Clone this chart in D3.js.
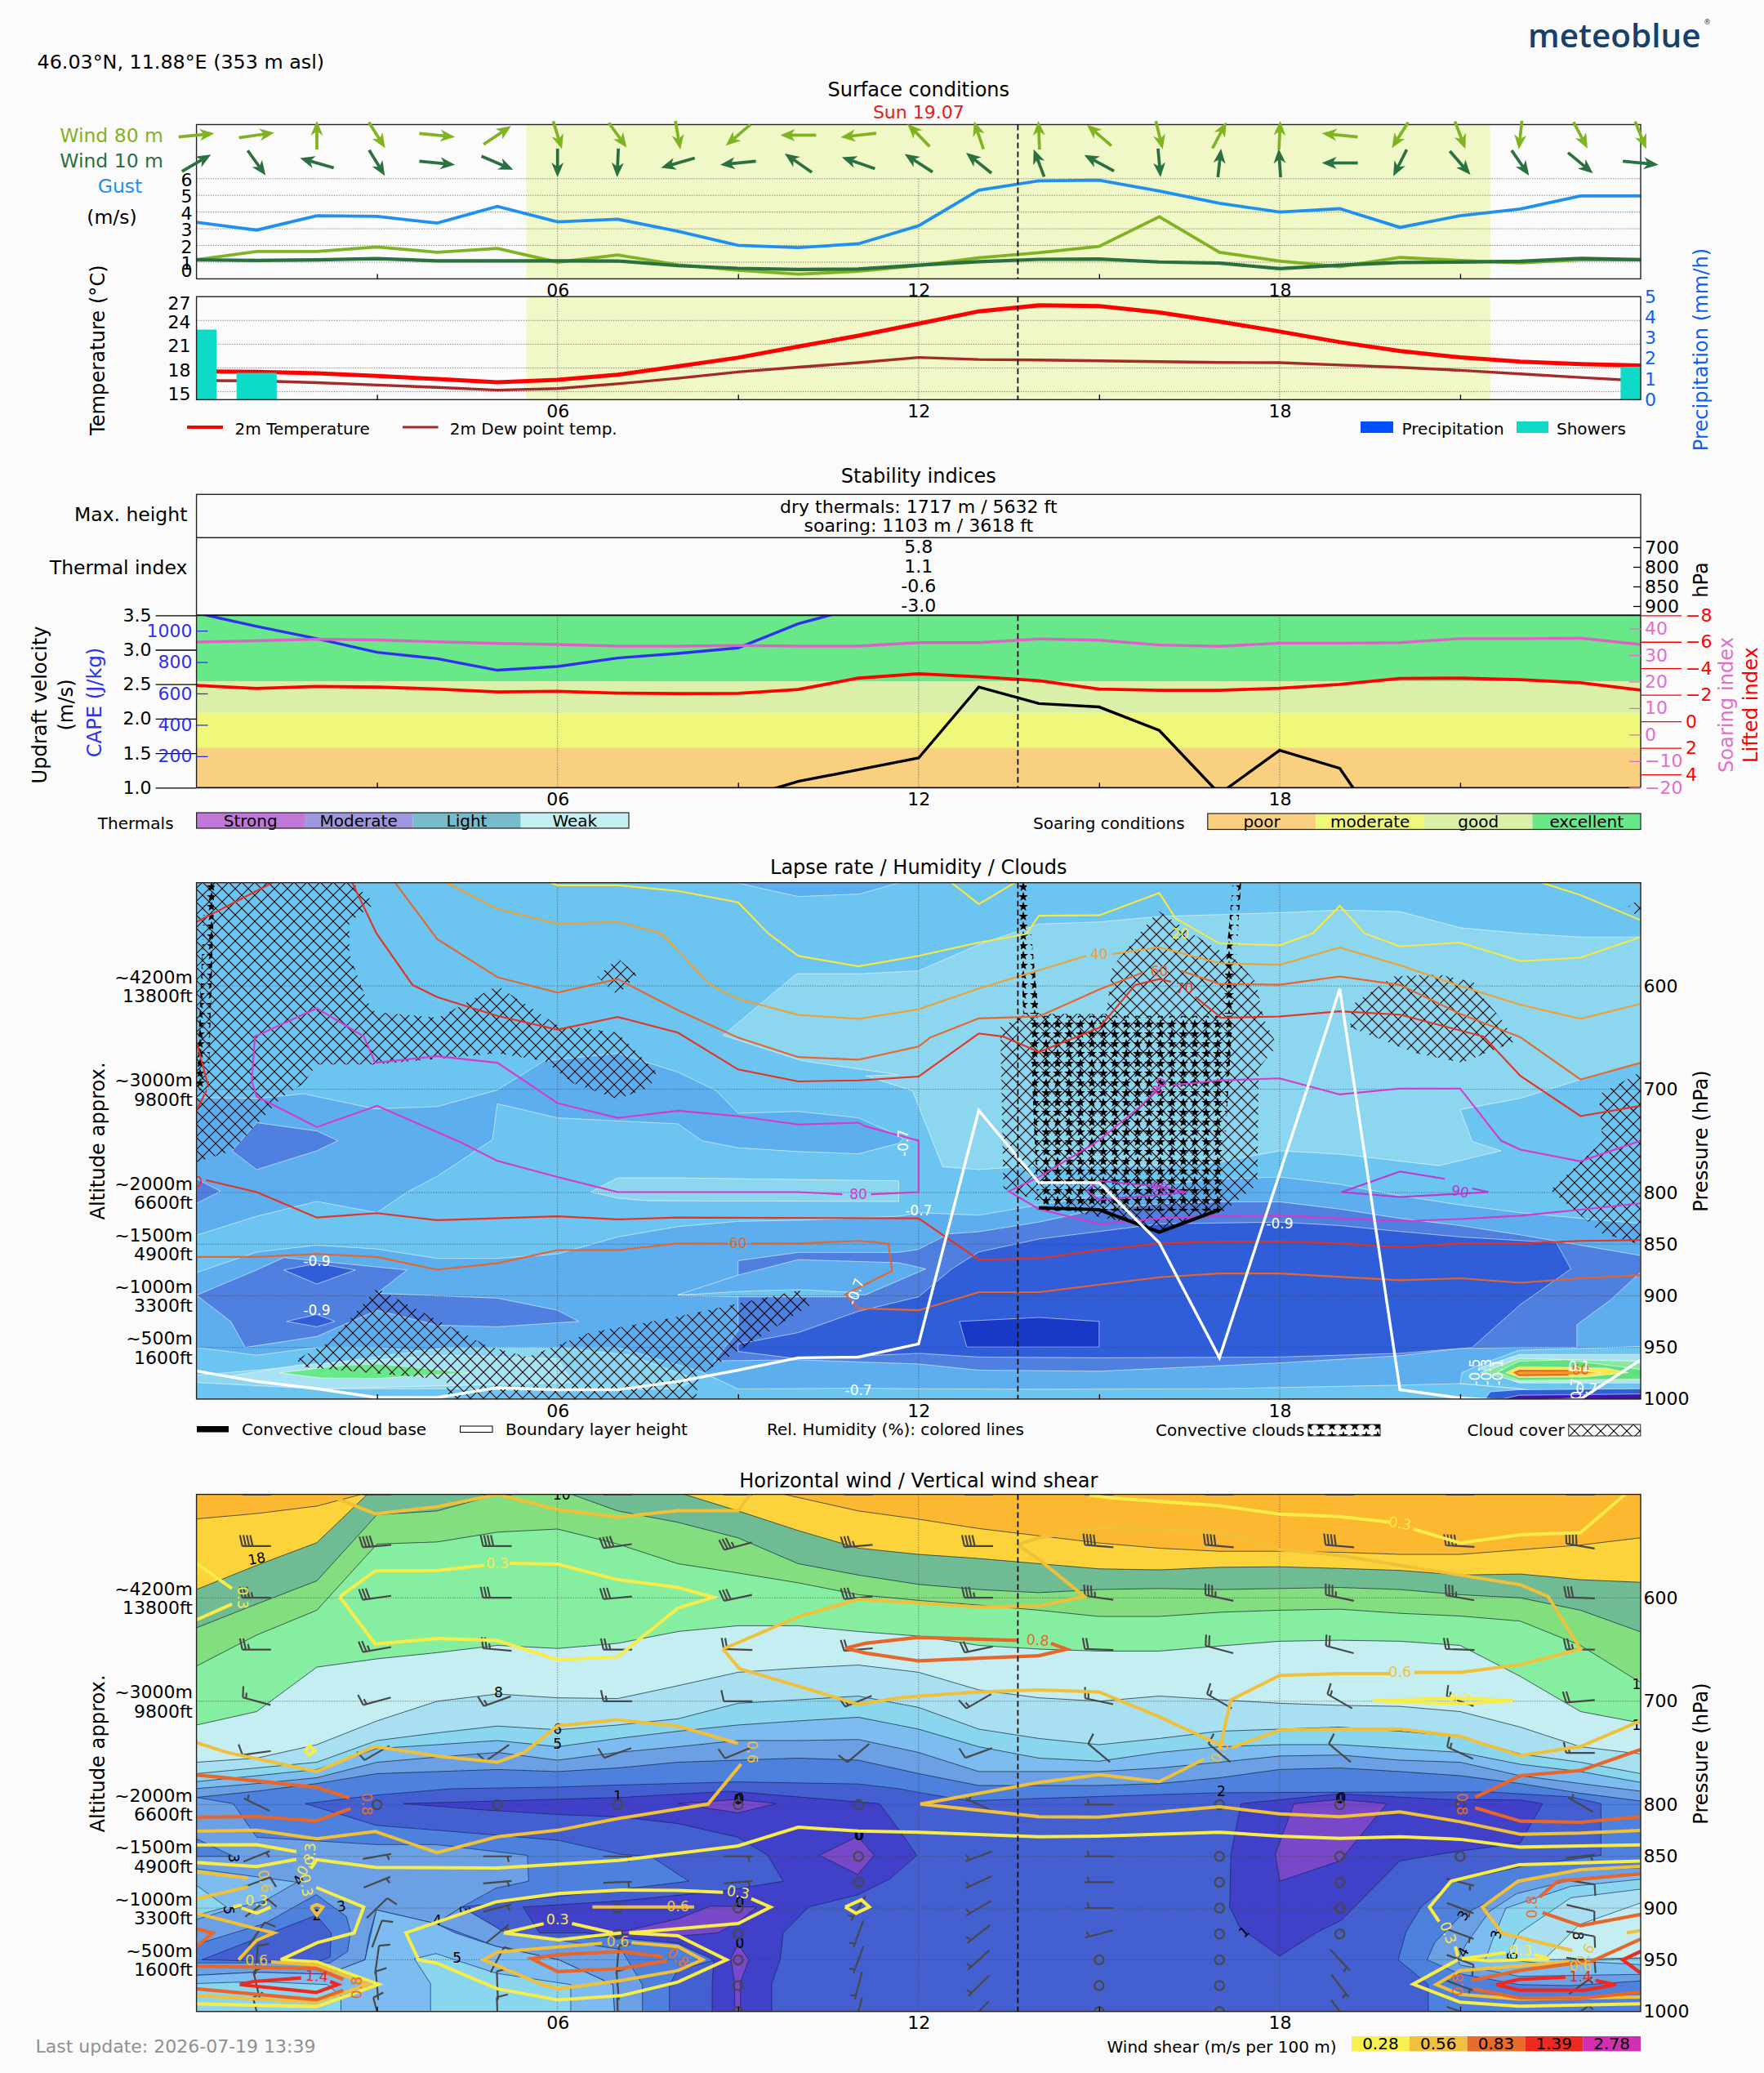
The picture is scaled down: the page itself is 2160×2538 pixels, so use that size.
<!DOCTYPE html>
<html><head><meta charset="utf-8">
<script src="https://cdn.jsdelivr.net/npm/d3@7"></script>
<style>html,body{margin:0;padding:0;background:#fbfbfb}svg{display:block}text{font-family:"DejaVu Sans",sans-serif}</style>
</head><body><div id="c"></div>
<script>
// ---------- DATA: surface ----------
const hours=d3.range(25);
const gust=[3.39,2.92,3.78,3.74,3.34,4.34,3.41,3.57,2.85,2.01,1.87,2.1,3.18,5.31,5.87,5.91,5.26,4.53,4.0,4.2,3.08,3.78,4.18,4.97,4.97];
const wind80=[1.15,1.64,1.64,1.91,1.59,1.82,1.0,1.43,0.84,0.52,0.28,0.45,0.80,1.26,1.57,1.94,3.72,1.59,1.07,0.73,1.28,1.10,0.96,1.14,1.14];
const wind10=[1.14,1.10,1.14,1.21,1.08,1.08,1.08,1.07,0.79,0.63,0.56,0.59,0.82,1.03,1.17,1.19,1.01,0.94,0.61,0.82,0.98,1.0,1.05,1.22,1.15];
const dir80=[83,80,0,153,97,50,166,150,172,223,270,262,322,345,358,317,169,23,2,277,207,163,185,157,162];
const dir10=[54,150,290,154,97,118,180,182,250,263,311,293,309,315,343,304,176,5,357,270,202,145,151,136,97];
const temp2m=[17.56,17.52,17.33,17.0,16.6,16.2,16.5,17.15,18.2,19.3,20.7,22.07,23.6,25.15,25.9,25.8,25.0,23.85,22.6,21.26,20.15,19.33,18.8,18.5,18.3];
const dew2m=[16.4,16.37,16.15,15.85,15.55,15.2,15.4,16.0,16.7,17.5,18.1,18.67,19.33,19.07,19,18.9,18.8,18.7,18.67,18.37,18.07,17.7,17.26,16.8,16.37];
const showers=[3.4,1.3,0,0,0,0,0,0,0,0,0,0,0,0,0,0,0,0,0,0,0,0,0,0,1.6];
const precipitation=[0,0,0,0,0,0,0,0,0,0,0,0,0,0,0,0,0,0,0,0,0,0,0,0,0];
const daylight=[5.48,21.5];
const nowHour=13.65;
// ---------- DATA: stability ----------
const cape=[1113,1027,949,862,822,748,772,826,855,890,1044,1148,1250,1300,1400,1500,1550,1500,1450,1400,1380,1350,1300,1280,1250];
const soaring=[34.9,35.4,36,35.7,35,34.4,34,33.4,33.4,33.6,33.4,33.4,34.7,34.7,36.1,35.6,33.8,33.3,34.5,34.5,34.7,36.2,36.2,36.4,34];
const lifted=[-2.71,-2.48,-2.63,-2.58,-2.44,-2.22,-2.26,-2.13,-2.09,-2.11,-2.4,-3.26,-3.59,-3.36,-3.06,-2.44,-2.34,-2.34,-2.5,-2.79,-3.24,-3.26,-3.14,-2.91,-2.36];
const updraft=[.5,.5,.5,.5,.5,.5,.5,.5,.6,.83,1.09,1.26,1.43,2.46,2.22,2.17,1.83,.91,1.54,1.28,0,0,0,0,0];
const soaringBands=[[3.5,2.54,"#68E888"],[2.54,2.08,"#DAF0A8"],[2.08,1.58,"#F0F87C"],[1.58,1.0,"#F8D080"]];
const thermalIndex=["5.8","1.1","-0.6","-3.0"];
const thermalLevels=["700","800","850","900"];
const thermalsLegend=[["Strong","#C078D8"],["Moderate","#A098DC"],["Light","#78BCCC"],["Weak","#C4EEF0"]];
const soaringLegend=[["poor","#F8D080"],["moderate","#F0F87C"],["good","#DAF0A8"],["excellent","#68E888"]];
// ---------- DATA: lapse rate fill polygons [hour,hPa] ----------
const lapseFills=[
 ["#5CAEEE",[[8.97,500],[10,513.4],[11.02,511],[11.67,500]]],
 ["#8DD6F0",[[8.75,647.8],[9.97,588.2],[11.02,588.2],[12,585.3],[13,560],[14,540],[15,538],[16,532.7],[17,530.9],[18,529],[19,526.5],[20,528],[21,543.6],[22,549],[23,552.6],[24,552.6],[24,674.3],[23,690.6],[22,708.8],[21,719.7],[21.2,750.5],[21.68,759.6],[20.65,774],[19.03,763],[18,759.6],[17,770.5],[15.89,774],[13.98,774],[13,777.8],[12.4,775],[11.9,701.5],[11.12,687],[11.67,686],[10.07,672.5]]],
 ["#8DD6F0",[[6.55,799.5],[7,785.8],[8,785.8],[11.67,788.7],[11.67,808.7],[7.5,808],[7,805.5]]],
 ["#5CAEEE",[[0,708],[1.02,708.8],[1.78,704.4],[2.97,719],[4,716.8],[5,700.8],[5.78,672.5],[7,665.2],[8,683.4],[8.64,701.5],[9,723.3],[10,721.5],[11,727.7],[11.67,745],[11.74,748],[11.67,752.4],[11,762.5],[10,760.3],[9,756.7],[8.4,749.8],[8,733.5],[6,727.7],[5,714],[4.92,748.7],[4,784.3],[3.5,799.6],[3,819.5],[2,808.6],[1,823],[0,841.3]]],
 ["#5CAEEE",[[0,877.6],[1,857.6],[2,851],[3,854.7],[4,863.8],[5,863.8],[6,859.5],[7,843],[8,833],[9,827.9],[10,826.8],[11.67,823],[12,819.5],[13,822],[14,812],[15,803],[16,792],[17,787],[18,785],[19,792],[20,803],[21,812],[22,819.5],[23,825],[24,830],[24,1001],[21,985],[20,986.5],[17,990],[14,990.5],[12,990],[11,989.5],[9,990.2],[8.4,973.8],[7,950],[6,950],[4.4,957],[3,950],[2,950],[1,957.5],[0,950]]],
 ["#8DD6F0",[[0,977],[2,966.8],[4.16,950],[6,950],[7.2,957.5],[8.3,981],[8,990],[6,992],[4.16,990],[2,990],[0,984]]],
 ["#A9E2F2",[[.54,978],[1.69,967],[4.16,957.5],[6,961],[6.25,984],[4.16,987],[2,990]]],
 ["#68E888",[[1.38,974.6],[2.45,967.3],[3.02,965.9],[4.54,974.6],[3.02,980],[2.07,979.6]]],
 ["#4F80E0",[[0,899.4],[1,875],[1.45,863],[3.5,875],[3,897.6],[5,902.3],[6,914],[6.35,924.8],[5,930],[4,928.5],[3,914],[2,939.4],[.81,950],[.57,924.8]]],
 ["#4F80E0",[[.59,759.6],[1,732.4],[2,740.4],[2.35,749.8],[2,759.6],[1,777.8]]],
 ["#4F80E0",[[0,786.8],[.4,798.8],[0,810.5]]],
 ["#4F80E0",[[9,866],[10,858],[11.67,858],[12,855],[12.5,840],[13,838],[14,828.6],[15,816],[16,811],[17,809],[18,809],[19,816],[20,825],[21,832],[22,841],[24,861],[24,877],[23.5,904],[22.94,928],[22.94,950],[22,950],[21,951],[20,958],[18,965],[15,973],[13,972],[12,966],[11,964],[10,962],[8.6,963],[9,934]]],
 ["#5CAEEE",[[8,899],[9,880],[10,865],[11.67,868],[12.12,874],[11.12,899],[10,899]]],
 ["#6CC4F0",[[8,899.5],[9,895.8],[10,894],[11,897],[11,901],[9,901]]],
 ["#2F5ED8",[[9,946.6],[10,935.7],[11,915],[12,901],[12.55,874],[13,857.6],[14,845],[15,837.7],[16,830.4],[18,828.6],[19,832],[20,837.7],[21,843],[22.6,848.6],[22.84,874],[22,908.5],[21.2,950],[20,955.7],[18,959.3],[15,960],[13,959.3],[12,955.7],[10,961],[9,953.9]]],
 ["#2F5ED8",[[1.45,875],[2,868.6],[2.64,875],[2,888.6]]],
 ["#2F5ED8",[[1.5,924.8],[2,918],[2.3,924.8],[2,930]]],
 ["#1838C8",[[12.68,924.8],[14,921],[15,924.8],[15,949.6],[12.8,949.6]]],
 ["#6CC4F0",[[21.03,974.4],[21.3,967.3],[21.98,952.8],[24.1,948.9],[24.1,1001],[23.07,999],[21.98,989.7],[21,985]]],
 ["#A9E2F2",[[21.3,970],[21.98,956.8],[24.1,956.8],[24.1,984.4],[21.98,984.4]]],
 ["#88E8A0",[[21.35,974.4],[21.98,960.7],[23.97,963.4],[24.1,981.8],[21.98,983]]],
 ["#60E080",[[21.62,973.9],[21.98,963.4],[22.75,962],[24.1,972],[24.1,980.5],[21.98,981.8]]],
 ["#F8E848",[[21.76,974.4],[21.98,968.6],[23.43,970],[23.79,974.4],[23.07,978.6],[21.98,979]]],
 ["#F0A020",[[21.89,974.4],[21.98,971.3],[22.98,972.6],[23.34,974.4],[22.9,976.5],[21.98,977.9]]],
 ["#3060D8",[[21.5,993],[21.98,991],[24.1,990],[24.1,1001],[21.4,1001]]],
 ["#4010B0",[[21.67,1000.3],[21.98,996.3],[24.1,995],[24.1,1001]]]
];
// ---------- DATA: humidity lines [hour,hPa] ----------
const rh20=[[[5.88,500],[6,502.5],[7,502.5],[8,508],[9,519],[9.5,549],[10,570.8],[11,581],[12,570.8],[13,558],[13.79,549.7],[14,532],[15,531.6],[16,510],[16.27,534.5],[17,558.8],[18,560.6],[18.55,549],[19,522.5],[19.41,549],[20,561.7],[21,558],[22,576],[23,572.6],[24,552.6]],[[12.55,500],[13,520.7],[13.6,500]],[[22.36,500],[23,512],[24,536.3]]];
const rh40=[[[4.16,500],[5,525.4],[6,540],[7,538],[7.73,549],[8.54,599],[9,612.6],[10,628],[11,631.8],[12,622.7],[13,602.4],[14.79,570.8]],[[15.22,569],[16,562.5],[17,578],[18,579.5],[19,562.8],[20,580],[21,600],[22,618],[23,631.8],[24,617.3]]];
const rh60=[[[3.3,500],[4,554.5],[5,591.5],[6,606.4],[7,593.3],[8,623.4],[9,650],[10,668.8],[11,671.4],[12,658.7],[12.19,650],[13,631.4],[14,629.6],[15,603.5],[15.75,586.4]],[[16.36,585.3],[17,598],[18,598.8],[19,590.8],[20,599],[21,627],[22,649.6],[23,690.6],[24,674.3]],[[0,862.4],[1,862.4],[2,859.5],[3,862.4],[4,874.7],[5,868.5],[6,855.8],[7,855.8],[8,849.3],[8.83,849.3]],[[9.21,849.3],[10,849.3],[11,846.8],[11.5,849.3],[11.56,875.8],[10.78,898.7],[11,912],[12,914],[13,896.5],[14,896.5],[16,882],[17,878.4],[18,878.4],[20,884.9],[21,883],[22,887.4],[23,883],[24,880]]];
const rh70=[[[2.59,500],[2.99,549],[3.59,599],[4,610.7],[5,629],[6,642.3],[7,630],[8,645.2],[9,680.8],[10,692.4],[11,691.4],[12,687.7],[13,646],[13.41,649],[14,664],[15,640.5],[15.6,599],[16,593.3],[16.2,596]],[[16.6,610.7],[17.03,630.7],[18,629.6],[19,624.5],[20,627.8],[21.39,649],[22,687],[23,726],[24,716]],[[0,538],[1.26,500]],[[0,654],[.2,698]],[[0,720],[.17,701]],[[.16,788],[1,799.6],[2,824.2],[3,820],[4,826.8],[6,823],[7,826],[8,824.2],[12,825],[13,865],[14,863.8],[15,855.8],[16,849.3],[17,847.5],[18,847.5],[19,849.3],[20,853],[21,849.3],[22,849.3],[23,846.8],[24,846]]];
const rh80=[[[11.21,801.7],[12,799.6],[12,749.8],[11.12,736],[11,732.4],[10,734.2],[9,726],[8,720.8],[7,727.7],[6,713.5],[5,674.3],[4,668],[2.97,674.3],[2.78,648.9],[2,621.6],[.97,648.9],[.92,692.4],[1,707],[2,736.7],[3,716],[4.4,751.6],[5,769.4],[6,785],[7,799.6],[10,799.6],[10.73,801.7]],[[24,810.4],[23,816.6],[22,822.4],[21,825.7],[20,827.9],[18,822],[17,822.4],[16,825],[15,830.4],[14,816],[13.5,798.8],[14,785],[15,749.4],[15.7,716],[16,697.9]],[[16.22,696],[17,691.4],[18,689.5],[19,705],[20,699.3],[21,699.3],[21.68,749.8],[22,758.5],[23,769.8],[24,749.8]]];
const rh90=[[[14.79,798.5],[15,806.8],[15.89,803],[16.46,799.6],[16,794],[15,788.7],[14.79,798.5]],[[20.74,786.8],[20,779.6],[19.03,799.6],[20,804.3],[21.47,799.6],[21.2,796]]];
const rhBlob=[[[22.8,972.6],[21.98,972.6],[21.91,974.4],[21.98,977],[22.8,976.5]]];
const rhLabels=[[16.35,549,"20","#F8E840"],[15,569,"40","#F0A030"],[16,586,"60","#E86428"],[16.42,602,"70","#E83020"],[9,849.3,"60","#E86428"],[11,801.7,"80","#D838C8"],[16,697,"80","#D838C8",-60],[21,799,"90","#B838D0",10],[16,795,"90","#B838D0"],[0.03,790,"0","#E83020"],[23,972,"60","#E86428"]];
const lapseLabels=[[2,866.7,"-0.9",0],[2,914,"-0.9",0],[11,991,"-0.7",0],[12,817,"-0.7",0],[18,829.7,"-0.9",0],[11.74,752,"-0.7",-90],[10.95,896,"-0.7",-70],[21.24,974,"-0.5",-90],[21.44,974,"-0.3",-90],[21.62,974,"-0.1",-90],[22.98,968.6,"0.1",0],[22.93,990,"0.7",-90],[23.1,990,"0.7",0]];
// ---------- DATA: clouds ----------
const cloudCover=[
 [[0,500],[2.59,500],[2.97,520],[2.54,538],[2.54,569],[2.83,614.4],[2.97,625.3],[4.02,630.7],[5,599.9],[6,638],[7,645.2],[7.64,683.4],[7.54,697.9],[7,709.5],[6.26,694.3],[5.78,672.5],[5,665.2],[2.97,676],[2,676],[1.78,694.3],[1.4,708.8],[.59,759.6],[0,770.5]],
 [[7,573.3],[7.32,589],[7,609],[6.66,590.8]],
 [[1.69,961],[2.21,944.8],[3,893],[4.83,948.4],[5.5,959.3],[6.54,935.7],[7.92,921.2],[10.02,894.7],[10.21,908.5],[8.35,977.5],[8.3,1000],[4.16,1000],[4.16,981],[1.69,968.4]],
 [[13.36,639.8],[13.79,627],[15.12,627],[15.22,581.7],[15.98,527.2],[16.74,556.3],[17.3,576],[17.6,596.2],[17.74,632.5],[17.96,658],[17.65,679.7],[17.63,792.3],[17.08,817.7],[16.08,835.9],[14.36,816],[13.41,796]],
 [[19.17,639.8],[19.21,618],[19.89,590.8],[20.65,589],[21.22,596.2],[21.35,609],[21.74,636],[21.89,654.3],[21.03,674.3],[20.27,665.2]],
 [[24,683.4],[23.31,705],[23.36,750.5],[22.5,797.7],[23.36,839.5],[24,850.4]],
 [[24,514.5],[23.79,523.6],[24,536.3]]
];
const convectiveClouds=[
 [[13.84,628.9],[17.22,628.9],[17.03,817.7],[13.98,817.7]],
 [[13.65,500],[13.79,500],[14,627],[13.74,627]],
 [[17.22,500],[17.36,500],[17.22,627],[17.03,627]],
 [[.14,500],[.3,500],[.2,701],[0,701]]
];
const cloudBase=[[14,814.8],[15,816.6],[16,838.4],[17,816.6]];
const boundaryLayer=[972.8,983,990,998.5,998.5,989,991,991,983,972,960,959.3,946.6,720.4,790.5,790.5,848.6,960,781.4,602.8,991,999,1002,1000,962];
// ---------- DATA: horizontal wind bands (hPa per hour) ----------
const windBandBoundaries=[
 ["#FDD33C",[523.7,518.5,511.3,496,480,480,480,480,480,490,503,516,524,533,540,547,552,555,555,556,558,558,553.5,549,542]],
 ["#6FBB93",[592,568.6,546.7,491,480,480,480,480,498,516,535,552,558,562,567,572,573,570.5,570,571.6,573.5,578,577,582.5,585]],
 ["#83DE80",[629,606,583.6,519.6,516,500,495,516,527,542,567,578,587,592,595,592,591,592,591,590,592,597,600,612,633]],
 ["#86EEA0",[666,636,612,548,546,536.5,533.5,548,567,576,585.5,597,602.5,607,612,618,618,614,612,611,615,617.6,622.5,646,682]],
 ["#C4EEF2",[723,710,667,659,653,646,649,644,632.6,627,627,632.6,637,646,649.6,651.5,651.5,646.6,642,641,642,646,676,710,721]],
 ["#A8E0F2",[759,755,742,719,700,693,696.7,697.4,685,672,668,665,672,689,696.7,700,695,698.6,702,704,705,710,725,744,751]],
 ["#8AD6EE",[770,764.5,759,738,730.6,724,727.6,723,717,702,698.6,695,706,727,736,742,736,729,727,725,729,734,751,759,770]],
 ["#7CBCF0",[777.7,772,766,745.7,742,738,744,736,729,723,719,715.5,727,744,755,758,749.5,744,742,742,745.7,749.5,761,768,778.5]],
 ["#6CA0E4",[784.5,779.6,774,759,754,749.5,757,749.5,744,738,738,737,749.5,768,768,768,764.5,759,753,752,757,759,772,779.6,787]],
 ["#4E80DE",[793,787,779.6,770,768,766,768,764.5,759,757,755,757,770,781.5,781.5,781.5,779.6,774,766,764.5,768,772,779.6,789,796.5]]
];
const windTopColor="#FDB832";
const windFills=[
 ["#4460D0",[[1.81,799],[2.94,791],[4.25,784.6],[6,783],[7,781],[9,778],[11,780],[11.67,784.6],[12.03,788.5],[12.84,796.4],[14.1,793.8],[16.96,788.5],[19,788],[21.5,787.8],[22.84,792.5],[23.34,799],[23.34,849],[22.03,859.6],[20.85,875],[20.35,899],[20.1,923],[19.97,950],[20.47,974],[20.47,1005],[7.86,1005],[7.86,974],[8,960],[8.63,950],[8,934],[7.06,927],[6.02,931],[5.11,923],[4.41,899],[6.02,888.6],[7.06,882],[8.18,874],[7.55,850],[7.05,848],[6.02,834.6],[4.98,829.4],[2.99,820]]],
 ["#6CA0E4",[[0,793],[.61,799],[1,831.5],[2.99,838.6],[3.98,838.6],[5.5,849],[5.52,874],[4.98,880.7],[4.41,899],[3.98,915],[2.99,901.8],[2.87,926.8],[2.8,950],[2.17,964],[1,962],[0,965]]],
 ["#4E80DE",[[0,833],[.61,850],[0,850]]],
 ["#7CBCF0",[[0,862],[1.67,875],[1.13,893],[.45,903],[0,911]]],
 ["#8AD6EE",[[0,878],[.5,899],[0,907]]],
 ["#4E80DE",[[0,935],[1.13,915],[1.99,887],[2.49,908],[2.56,923],[2.51,942],[2.22,953],[0,953]]],
 ["#4460D0",[[.09,950],[1.99,907],[2.24,924],[2.22,947],[1.99,953]]],
 ["#6CA0E4",[[4.41,899],[5.11,923],[6.02,931],[7.06,940],[7.41,974],[7.41,1005],[6.95,1005],[6.92,974],[6.02,950],[4.98,937],[3.98,915]]],
 ["#7CBCF0",[[0,965],[1,962],[2.17,964],[2.8,950],[2.99,901.8],[3.98,915],[4.3,924],[4.98,937],[6.02,950],[6.92,974],[6.95,1005],[0,1005]]],
 ["#8AD6EE",[[3.62,949],[3.98,944],[4.98,963],[6.22,974],[6.22,1005],[3.89,1005],[3.89,973]]],
 ["#8AD6EE",[[0,973],[1,971],[2.17,974],[2.4,985],[2.4,1005],[0,1005]]],
 ["#6CA0E4",[[20.45,950],[20.58,933],[21,908],[21.49,893],[22,873],[22.84,863.6],[24.1,861],[24.1,970],[22.84,975],[21.98,974],[20.99,963.6]]],
 ["#7CBCF0",[[20.96,950],[21.1,934.7],[21.49,903],[21.94,886],[22.84,873],[24.1,866],[24.1,964],[21.98,966],[21,955]]],
 ["#8AD6EE",[[21.42,950],[21.53,932],[21.76,900],[22.84,879],[24.1,871.5],[24.1,955],[22.5,950]]],
 ["#A8E0F2",[[21.76,950],[21.98,924],[22.84,890],[24.1,881],[24.1,948],[22.3,953]]],
 ["#C4EEF2",[[22.39,950],[22.98,916],[24.1,893],[24.1,948]]],
 ["#4040C8",[[3.44,799],[4.75,805],[6.02,809.6],[7.05,812],[8,818.3],[9,831.5],[9.49,849],[9.75,874],[8.8,883],[7.06,893],[5.43,899],[5.7,924],[6.47,924],[7.06,929],[8,934],[8.6,950.5],[8.57,971.5],[8.57,1005],[9.56,1005],[9.56,973],[9.7,950],[9.75,924],[10.17,899],[11,887],[11.53,871.5],[11.97,849],[11.67,824],[11.35,799],[8.86,787],[7.06,793]]],
 ["#4040C8",[[17.36,799],[19,789.5],[20.76,795],[22,795.5],[22.37,799],[22,837],[20.8,846.5],[20,854.4],[19.02,912],[18.63,923],[18,946.5],[17.34,919],[17.17,899],[17.19,847.8]]],
 ["#7848C8",[[18.24,799],[19,795],[19.78,799],[19,854.4],[18,874],[17.93,847.8]]],
 ["#7848C8",[[8,799],[9,795],[9.63,799],[9,808]]],
 ["#7848C8",[[10.35,849],[10.99,830.7],[11.26,849],[10.99,867.5]]],
 ["#7848C8",[[7.05,923],[8,910.5],[8.54,898],[9.31,899],[9,913.6],[8.66,924],[8,927],[7.05,925]]],
 ["#7848C8",[[8.88,949],[9,934.7],[9.18,950],[9.04,971.5],[9.04,1005],[8.95,1005],[8.94,971.5]]]
];
const windLabels=[[1,562,"18",-10],[5.02,691.8,"8",0],[6,740.8,"5",0],[6,727,"6",0],[6.07,500,"10",0],[7,792,"1",0],[9,794.7,"0",0],[17.03,787,"2",0],[19.03,793.5,"0",0],[11.02,829.7,"0",0],[.61,851.7,"3",90],[1.7,873,"4",-60],[.54,902,"5",90],[2,907,"2",0],[2.41,898,"3",-10],[4,912,"4",0],[4.33,948,"5",0],[4.46,902,"3",90],[17.41,923,"1",-40],[9.03,794.3,"0",0],[11,830,"0",0],[9.03,894.6,"0",0],[9.03,934,"0",0],[19,794,"0",0],[21.05,907,"3",-60],[21.6,925.5,"3",-80],[21.05,942.6,"4",-60],[21.87,946.5,"6",-90],[22.96,926.8,"8",90],[23.93,683.5,"1",0],[23.93,723,"1",0]];
// ---------- DATA: wind barbs ----------
const barbHours=[1,3,5,7,9,11,13,15,17,19,21,23];
const barbLevels=[500,550,600,650,700,750,800,850,875,900,925,950,975,1000];
const barbSpeed=[
 [20,20,20,20,20,20,20,20,20,20,20,20],
 [20,20,20,20,17.5,17.5,20,20,20,20,20,20],
 [17.5,15,15,15,15,17.5,17.5,17.5,17.5,17.5,17.5,15],
 [12.5,12.5,12.5,12.5,10,10,10,10,10,10,10,12.5],
 [7.5,7.5,7.5,7.5,5,7.5,7.5,7.5,7.5,7.5,7.5,10],
 [5,5,5,5,5,5,5,5,5,5,7.5,7.5],
 [2.5,0,0,0,0,0,2.5,2.5,0,0,0,2.5],
 [2.5,2.5,2.5,2.5,2.5,0,2.5,2.5,0,0,0,2.5],
 [5,2.5,2.5,2.5,2.5,0,2.5,2.5,0,0,2.5,5],
 [5,5,2.5,0,0,2.5,2.5,2.5,0,0,2.5,5],
 [5,5,2.5,0,0,2.5,2.5,2.5,0,0,2.5,5],
 [5,5,5,5,0,2.5,2.5,0,0,2.5,5,5],
 [5,5,5,5,0,2.5,2.5,0,0,2.5,2.5,2.5],
 [5,5,5,5,0,2.5,2.5,0,0,2.5,2.5,2.5]
];
const barbDir=[
 [270,270,270,270,270,270,270,270,270,270,270,270],
 [270,265,270,262,255,265,270,275,275,275,273,280],
 [270,262,270,265,258,265,270,278,282,282,280,272],
 [270,260,275,270,272,265,258,272,285,285,272,270],
 [285,255,250,270,270,248,240,282,300,300,290,265],
 [262,240,235,250,248,230,250,310,310,310,295,270],
 [296,0,0,0,0,0,295,270,0,0,0,300],
 [68,80,90,90,90,0,250,270,0,0,0,84],
 [70,68,85,88,85,0,245,270,0,0,104,99],
 [53,46,75,0,0,210,240,270,0,0,111,103],
 [35,20,51,0,0,200,232,255,0,0,110,100],
 [5,8,28,5,0,200,228,0,0,137,110,98],
 [347,355,358,355,0,195,225,0,0,143,110,54],
 [345,345,358,358,0,195,225,0,0,143,110,55]
];
// ---------- DATA: wind shear contours ----------
const shear03=[[[2.38,599],[2.97,574],[4,573.5],[4.78,568.6]],[[5.2,566.7],[6,567.4],[7,582.5],[8,590],[8.59,599.5],[8,610],[7,657],[6,659.8],[5,641.3],[4,639.4],[2.97,644.7],[2.38,599]],[[0,566.7],[.59,591]],[[0,621.3],[.59,606]],[[14.84,500.8],[15.22,503.4],[17,511],[18,519],[19,521.5],[19.84,527]],[[20.22,533.5],[21,547],[22,539],[23,537],[23.74,500]],[[0,839],[1,838.7],[1.66,845.5]],[[0,856],[1,859.8],[1.66,853]],[[1.97,853],[2.97,860.6],[5,861.3],[7,854],[9,839.9],[10,821.8],[11,825.5],[12,826.7],[14,831],[15,830.4],[17,826.7],[18,830.4],[19,832.7],[20,831],[21,833.5],[22,841],[23,840],[24,839]],[[1.99,880],[2.78,899],[2.62,924],[2.01,933.4],[1.4,950],[2,952],[3.03,973.7],[2,995.2],[0,992.6]],[[1.99,854],[1.9,862]],[[.61,899],[.75,897]],[[.75,900],[1,905],[1.23,899]],[[1.8,747.6],[1.88,743],[1.97,747.6],[1.88,752],[1.8,747.6]],[[6.24,915],[6.92,924]],[[5.77,915],[5.11,924],[6.02,930.7],[7.06,924]],[[8.75,884.7],[8,883],[7.06,882.5],[6.02,886],[4.98,894],[3.48,924],[3.69,950],[3.98,953],[5,978],[6,988.7],[7.06,984.7],[8,971.5],[8.81,950],[8,926.8],[7.19,924],[9,915],[9.54,899],[9.22,891]],[[10.78,899],[11.05,892],[11.18,899],[10.96,905],[10.78,899]],[[19.55,699.3],[21,697],[21.88,699.3],[21,702.5],[19.55,699.3]],[[24.02,854.4],[21.98,858],[20.85,874],[20.49,899],[20.65,913]],[[20.92,937],[20.96,946.5]],[[20.96,950],[20.22,973.6],[21,991],[21.98,995],[24.02,992.6]],[[21.03,949],[21.76,943]],[[22.23,944.7],[22.48,949],[21.49,951],[21.03,949]]];
const shear06=[[[2.16,500],[2.97,518.8],[4,512],[5,500],[6,514.7],[7,522],[8,515.8],[9,515.8],[9.2,500]],[[8.75,649.6],[10,618.3],[11,601.4],[12,605],[13,609],[14,608],[14.76,598.7],[14,563],[13.65,548.6],[14,542],[15,532],[17,536.6],[18,553.5],[19,559],[20,568.6],[21,578],[22,587.4],[22.46,598.7],[23,649.6],[22,664.7],[21,672],[20.24,672]],[[19.84,673.3],[19,673.3],[18,675],[17.19,698.6],[17,746.8]],[[8.75,649.6],[9.02,668.4],[10,685.4],[11,703],[11.67,696.7],[12,695],[13,691],[14,689],[15,691],[16,715],[17,742]],[[17.2,745],[18,728],[19,727],[20,726.8],[21,734],[22,752.5],[23,743.8],[24,719]],[[16.74,756],[16,777.7],[15,771],[14,778.5],[12.03,799.5],[14,811.6],[15,812],[17,802],[18,809],[19,811.6],[20,807],[21,816.5],[22,828.6],[23,827.5],[24,825]],[[0,740],[.5,749.4],[2,768],[2.97,743.8],[4,753],[5,758.9],[5.45,749.4],[6,723.8],[7,718],[8,724],[9,740.8]],[[9.05,760.7],[8.5,799.5],[7,813.5],[6,824.8],[5,831],[4,846.3],[2.97,826],[2,833],[1,824.8],[0,825.6]],[[0,865],[.86,871]],[[0,891],[.86,879.4]],[[0,905],[1,920],[1.29,924],[1,931],[.7,950]],[[1.24,952],[1.99,955],[2.85,973.7],[1.99,991],[0,984.7]],[[1.9,899],[2,896.5],[2.1,899],[2,907],[1.9,899]],[[6.74,934],[5,942.6],[4.77,950],[5.75,974],[6.02,978],[7.06,970],[8,960.5],[8.41,950],[8,937.3],[7.23,933.4]],[[6.58,899],[8.27,899]],[[24.02,859.6],[23,862.8],[21.96,874],[21.37,899],[21.69,924],[22.86,941]],[[22.82,951.8],[21,960.5],[20.6,974],[21,983.4],[21.98,988],[24.02,986]],[[23.77,924],[24.02,921.5]]];
const shear08=[[[0,956],[1.99,958.4],[2.44,969]],[[0,978],[1.99,988.7],[2.44,979.4]],[[0,771.3],[1,777],[2,783.3],[2.54,793.5]],[[0,812.2],[1,811.5],[1.99,815.7],[2.56,803.8]],[[0,920],[.27,924],[0,937]],[[7.75,947],[7.06,942],[6,945],[5.57,949],[6,961.5],[7.06,958.4],[7.82,951]],[[10.78,648.8],[11.12,644],[12,638.3],[13.65,641.2]],[[14.2,644],[14.46,649.6],[14,656],[13,658.3],[12,661],[11.12,653.4],[10.78,648.8]],[[24.02,866.8],[22.62,874],[22.32,889.4]],[[22.37,904.4],[23,917],[24.02,906]],[[21.19,970],[21.98,960.5],[23.2,951],[24.02,929.4]],[[21.21,978],[21.98,987],[23,987.3],[24.02,981]],[[21.25,792.8],[22,772],[23,767],[24,746.8]],[[21.25,803],[22,816],[23,817],[24,811.6]]];
const shear14=[[[1.74,967.6],[.95,971],[.72,974],[1.99,981.6],[2.35,974],[2.22,971]],[[22.75,966.8],[21.98,969],[21.6,974],[21.98,979.4],[23.07,979.4],[23.59,974],[23.25,970]],[[24.02,941.3],[23.7,950],[24.02,963.6]]];
const shearLabels=[[5,567,"0.3",0,"#F8E850"],[.76,600,"0.3",90,"#F8E850"],[20,528,"0.3",10,"#F8E850"],[20,672,"0.6",0,"#F0C040"],[13.98,641,"0.8",5,"#E86C2C"],[9.24,749,"0.6",90,"#F0C040"],[2.83,799.5,"0.8",90,"#E86C2C"],[1.89,847.8,"0.3",-90,"#F8E850"],[1.82,858,"0.3",-60,"#F8E850"],[1.82,878,"0.3",80,"#F8E850"],[1.13,874,"0.6",80,"#F0C040"],[1,892.6,"0.3",0,"#F8E850"],[1,950.5,"0.6",0,"#F0C040"],[2,966,"1.4",5,"#EE2A20"],[2.67,977,"0.8",-90,"#E86C2C"],[6,911,"0.3",0,"#F8E850"],[7,932,"0.6",0,"#F0C040"],[8,898.4,"0.6",0,"#F0C040"],[9,884.7,"0.3",10,"#F8E850"],[8,948,"0.8",40,"#E86C2C"],[21,698,"0.3",0,"#F8E850"],[21.03,799.5,"0.8",90,"#E86C2C"],[17,749,"0.6",-60,"#F0C040"],[22,941,"0.3",0,"#F8E850"],[20.8,924,"0.3",70,"#F8E850"],[22.2,899,"0.8",-90,"#E86C2C"],[23.08,945,"0.6",-60,"#F0C040"],[23,956,"0.6",0,"#F0C040"],[23,966,"1.4",0,"#EE2A20"],[20.96,974,"0.8",-90,"#E86C2C"]];
const shearLegend=[["0.28","#F8F050"],["0.56","#F0C040"],["0.83","#E86C2C"],["1.39","#EE2A20"],["2.78","#D030B0"]];
const altitudeLabels=[[600,"~4200m","13800ft"],[700,"~3000m","9800ft"],[800,"~2000m","6600ft"],[850,"~1500m","4900ft"],[900,"~1000m","3300ft"],[950,"~500m","1600ft"]];
const pressureTicks=[600,700,800,850,900,950,1000];

// ---------- LAYOUT ----------
const W=2160,H=2538,L=240.6,R=2009,CX=(L+R)/2;
const FS=22,PANEL="#fbfbfb";
const svg=d3.select("#c").append("svg").attr("width",W).attr("height",H).attr("viewBox",`0 0 ${W} ${H}`);
svg.append("rect").attr("width",W).attr("height",H).attr("fill","#fbfbfb");
const defs=svg.append("defs");
const x=d3.scaleLinear().domain([0,24]).range([L,R]);
function clip(id,y0,y1){defs.append("clipPath").attr("id",id).append("rect").attr("x",L).attr("y",y0).attr("width",R-L).attr("height",y1-y0);}
const hatch=defs.append("pattern").attr("id","hatch").attr("patternUnits","userSpaceOnUse").attr("width",16).attr("height",16);
hatch.append("path").attr("d","M0 0L16 16M16 0L0 16M-1 15L1 17M15 -1L17 1").attr("stroke","#000").attr("stroke-width",1.1).attr("fill","none");
const starsP=defs.append("pattern").attr("id","stars").attr("patternUnits","userSpaceOnUse").attr("width",14).attr("height",12);
starsP.append("path").attr("transform","translate(7,6)").attr("d",d3.symbol(d3.symbolStar,44)()).attr("fill","#000");
function text(g,px,py,s,o={}){
 const t=g.append("text").attr("x",px).attr("y",py).attr("font-size",o.size||FS).attr("fill",o.fill||"#000")
  .attr("text-anchor",o.anchor||"start").attr("dominant-baseline","central").text(s);
 if(o.rot!==undefined)t.attr("transform",`rotate(${o.rot},${px},${py})`);
 if(o.weight)t.attr("font-weight",o.weight);
 if(o.family)t.style("font-family",o.family);
 return t;
}
function rotLabel(px,py,s,fill){text(svg,px,py,s,{rot:-90,anchor:"middle",fill:fill||"#000",size:24.2});}
function styleAxis(g,color){g.select(".domain").remove();g.selectAll("line").attr("stroke",color||"#000").attr("stroke-width",1.3);g.selectAll("text").attr("font-size",FS).attr("fill",color||"#000").style("font-family",'"DejaVu Sans"');g.attr("font-family",null);return g;}
function grid(g,y,levels,y0,y1,verts){
 g.selectAll(null).data(levels).enter().append("line").attr("x1",L).attr("x2",R).attr("y1",d=>y(d)).attr("y2",d=>y(d)).attr("stroke","#444").attr("stroke-opacity",.65).attr("stroke-width",1).attr("stroke-dasharray","1.3,1.6");
 g.selectAll(null).data(verts||[6,12,18]).enter().append("line").attr("x1",d=>x(d)).attr("x2",d=>x(d)).attr("y1",y0).attr("y2",y1).attr("stroke","#444").attr("stroke-opacity",.65).attr("stroke-width",1).attr("stroke-dasharray","1.3,1.6");
}
function frame(y0,y1,sw){svg.append("rect").attr("x",L).attr("y",y0).attr("width",R-L).attr("height",y1-y0).attr("fill","none").attr("stroke","#222").attr("stroke-width",sw||1.4);}
function xAxis(y1,pad){
 styleAxis(svg.append("g").attr("transform",`translate(0,${y1})`).call(d3.axisBottom(x).tickValues([6,12,18]).tickSize(0).tickPadding(pad||6).tickFormat(d3.format("02d"))));
 styleAxis(svg.append("g").attr("transform",`translate(0,${y1})`).call(d3.axisBottom(x).tickValues([3,9,15,21]).tickSize(-6).tickFormat("")));
}
function nowLine(y0,y1){svg.append("line").attr("x1",x(nowHour)).attr("x2",x(nowHour)).attr("y1",y0).attr("y2",y1).attr("stroke","#111").attr("stroke-width",1.8).attr("stroke-dasharray","7,4");}

// ---------- HEADER ----------
text(svg,45.6,75.7,"46.03°N, 11.88°E (353 m asl)",{size:23.8});
text(svg,1871,42,"meteoblue",{size:40.5,fill:"#17406A",family:'"Open Sans"',weight:600});
text(svg,2086,27,"®",{size:9,fill:"#17406A"});
text(svg,CX,109.5,"Surface conditions",{anchor:"middle",size:24});
text(svg,CX,137.5,"Sun 19.07",{anchor:"middle",fill:"#E02020",size:22});

// ---------- PANEL 1: wind ----------
const P1={t:152.5,b:341.4};
const y1=d3.scaleLinear().domain([0,9.24]).range([P1.b,P1.t]);
clip("c1",P1.t,P1.b);
const g1=svg.append("g");
g1.append("rect").attr("x",L).attr("y",P1.t).attr("width",R-L).attr("height",P1.b-P1.t).attr("fill",PANEL);
g1.append("rect").attr("x",x(daylight[0])).attr("y",P1.t).attr("width",x(daylight[1])-x(daylight[0])).attr("height",P1.b-P1.t).attr("fill","#F0F8C8");
grid(g1,y1,[1,2,3,4,5,6],y1(6),P1.b);
function hourLine(y){return d3.line().x((d,i)=>x(hours[i])).y(d=>y(d));}
[[gust,"#2090F0",3.8],[wind80,"#7FB321",3.8],[wind10,"#2A7040",4.2]].forEach(([s,c,w])=>g1.append("path").attr("d",hourLine(y1)(s)).attr("fill","none").attr("stroke",c).attr("stroke-width",w).attr("clip-path","url(#c1)"));
frame(P1.t,P1.b);
const ax1=styleAxis(svg.append("g").attr("transform",`translate(${L},0)`).call(d3.axisLeft(y1).tickValues([0,1,2,3,4,5,6]).tickSize(0).tickPadding(5).tickFormat(d3.format("d"))));
ax1.selectAll("text").attr("dominant-baseline","central").attr("dy",d=>d===0?-10.5:1);
xAxis(P1.b,6);
function arrows(dirs,cy,color){
 const lx=22,ly=17.6;
 dirs.forEach((d,i)=>{
  const a=d*Math.PI/180,dx=Math.sin(a),dy=-Math.cos(a),cx=x(hours[i]);
  const px=cx-dx*lx,py=cy-dy*ly,qx=cx+dx*lx,qy=cy+dy*ly;
  const len=Math.hypot(qx-px,qy-py),ux=(qx-px)/len,uy=(qy-py)/len,hl=18,hw=7.5;
  const bx=qx-ux*hl,by=qy-uy*hl,nbx=qx-ux*hl*.72,nby=qy-uy*hl*.72;
  svg.append("line").attr("x1",px).attr("y1",py).attr("x2",nbx).attr("y2",nby).attr("stroke",color).attr("stroke-width",3.7);
  svg.append("path").attr("d",`M${qx},${qy}L${bx-uy*hw},${by+ux*hw}L${nbx},${nby}L${bx+uy*hw},${by-ux*hw}Z`).attr("fill",color);
 });
}
arrows(dir80,165.5,"#7FB321");
arrows(dir10,199.5,"#2A7040");
nowLine(P1.t,P1.b);
text(svg,200,166,"Wind 80 m",{anchor:"end",fill:"#7FB321",size:23.5});
text(svg,200,197,"Wind 10 m",{anchor:"end",fill:"#2A7040",size:23.5});
text(svg,147,228,"Gust",{anchor:"middle",fill:"#2090F0",size:23.5});
text(svg,137,266,"(m/s)",{anchor:"middle",size:23.5});

// ---------- PANEL 2: temperature ----------
const P2={t:363.2,b:489.3};
const y2=d3.scaleLinear().domain([14,27]).range([P2.b,P2.t]);
const yP=d3.scaleLinear().domain([0,5]).range([P2.b,P2.t]);
clip("c2",P2.t,P2.b);
const g2=svg.append("g");
g2.append("rect").attr("x",L).attr("y",P2.t).attr("width",R-L).attr("height",P2.b-P2.t).attr("fill",PANEL);
g2.append("rect").attr("x",x(daylight[0])).attr("y",P2.t).attr("width",x(daylight[1])-x(daylight[0])).attr("height",P2.b-P2.t).attr("fill","#F0F8C8");
grid(g2,y2,[15,18,21,24],P2.t,P2.b);
[[temp2m,"#FF0000",5],[dew2m,"#A52A2A",3.4]].forEach(([s,c,w])=>g2.append("path").attr("d",hourLine(y2)(s)).attr("fill","none").attr("stroke",c).attr("stroke-width",w).attr("clip-path","url(#c2)"));
const barW=x(2/3)-x(0);
g2.append("g").attr("clip-path","url(#c2)").selectAll("rect").data(showers).enter().append("rect").attr("x",(d,i)=>x(hours[i])-barW/2).attr("width",barW).attr("y",d=>yP(d)).attr("height",d=>P2.b-yP(d)).attr("fill","#0DDBC8");
g2.append("g").attr("clip-path","url(#c2)").selectAll("rect").data(precipitation).enter().append("rect").attr("x",(d,i)=>x(hours[i])-barW/2).attr("width",barW).attr("y",d=>yP(d)).attr("height",d=>P2.b-yP(d)).attr("fill","#0050FF");
frame(P2.t,P2.b);
const ax2=styleAxis(svg.append("g").attr("transform",`translate(${L},0)`).call(d3.axisLeft(y2).tickValues([15,18,21,24,27]).tickSize(0).tickPadding(7).tickFormat(d3.format("d"))));
ax2.selectAll("text").attr("dominant-baseline","central").attr("dy",d=>d===27?8:2);
styleAxis(svg.append("g").attr("transform",`translate(${R},0)`).call(d3.axisRight(yP).tickValues([0,1,2,3,4,5]).tickSize(0).tickPadding(5).tickFormat(d3.format("d"))),"#1060F0");
xAxis(P2.b,6);
nowLine(P2.t,P2.b);
rotLabel(120,428.6,"Temperature (°C)");
rotLabel(2083,428,"Precipitation (mm/h)","#1060F0");
svg.append("line").attr("x1",229).attr("x2",273).attr("y1",523).attr("y2",523).attr("stroke","#FF0000").attr("stroke-width",4);
text(svg,287.6,525,"2m Temperature",{size:20});
svg.append("line").attr("x1",493).attr("x2",536.6).attr("y1",523).attr("y2",523).attr("stroke","#A52A2A").attr("stroke-width",3);
text(svg,550.7,525,"2m Dew point temp.",{size:20});
svg.append("rect").attr("x",1666).attr("y",516).attr("width",40).attr("height",14).attr("fill","#0050FF");
text(svg,1716.6,525,"Precipitation",{size:20});
svg.append("rect").attr("x",1857).attr("y",516).attr("width",39).attr("height",14).attr("fill","#0DDBC8");
text(svg,1906,525,"Showers",{size:20});

// ---------- PANEL 3: stability ----------
text(svg,CX,582.7,"Stability indices",{anchor:"middle",size:24});
const P3={t:753.3,b:964.3};
svg.append("rect").attr("x",L).attr("y",605.3).attr("width",R-L).attr("height",P3.t-605.3).attr("fill",PANEL).attr("stroke","#222").attr("stroke-width",1.4);
svg.append("line").attr("x1",L).attr("x2",R).attr("y1",658.3).attr("y2",658.3).attr("stroke","#222").attr("stroke-width",1.4);
text(svg,CX,620,"dry thermals: 1717 m / 5632 ft",{anchor:"middle"});
text(svg,CX,643,"soaring: 1103 m / 3618 ft",{anchor:"middle"});
text(svg,229.4,630,"Max. height",{anchor:"end",size:23.5});
text(svg,229.4,695,"Thermal index",{anchor:"end",size:23.5});
const yTI=d3.scalePoint().domain(thermalLevels).range([670,742]);
thermalIndex.forEach((t,i)=>text(svg,x(12),yTI(thermalLevels[i])-1,t,{anchor:"middle"}));
styleAxis(svg.append("g").attr("transform",`translate(${R},0)`).call(d3.axisRight(yTI).tickSize(-9).tickPadding(5)));
const y3=d3.scaleLinear().domain([1,3.5]).range([P3.b,P3.t]);
const yCape=d3.scaleLinear().domain([0,1098]).range([P3.b,P3.t]);
const ySoar=d3.scaleLinear().domain([-20,45]).range([P3.b,P3.t]);
const yLift=d3.scaleLinear().domain([5,-8]).range([P3.b,P3.t]);
clip("c3",P3.t,P3.b);
const g3=svg.append("g");
soaringBands.forEach(([a,b,c])=>g3.append("rect").attr("x",L).attr("width",R-L).attr("y",y3(a)).attr("height",y3(b)-y3(a)).attr("fill",c));
grid(g3,y3,[],P3.t,P3.b);
[[updraft,y3,"#000",3.4],[cape,yCape,"#3030F0",3.4],[soaring,ySoar,"#E060C8",3.4],[lifted,yLift,"#FF0000",3.8]].forEach(([s,y,c,w])=>g3.append("path").attr("d",hourLine(y)(s)).attr("fill","none").attr("stroke",c).attr("stroke-width",w).attr("clip-path","url(#c3)"));
svg.append("line").attr("x1",L).attr("x2",R).attr("y1",P3.t).attr("y2",P3.t).attr("stroke","#111").attr("stroke-width",1.8);
svg.append("line").attr("x1",L).attr("x2",R).attr("y1",P3.b).attr("y2",P3.b).attr("stroke","#111").attr("stroke-width",1.8);
svg.append("line").attr("x1",L).attr("x2",L).attr("y1",P3.t).attr("y2",P3.b).attr("stroke","#222").attr("stroke-width",1.4);
svg.append("line").attr("x1",R).attr("x2",R).attr("y1",P3.t).attr("y2",P3.b).attr("stroke","#222").attr("stroke-width",1.4);
styleAxis(svg.append("g").attr("transform",`translate(${L},0)`).call(d3.axisLeft(y3).tickValues([1,1.5,2,2.5,3,3.5]).tickSize(50).tickPadding(5).tickFormat(d3.format(".1f"))));
styleAxis(svg.append("g").attr("transform",`translate(${L},0)`).call(d3.axisLeft(yCape).tickValues([200,400,600,800,1000]).tickSize(-14).tickPadding(5).tickFormat(d3.format("d"))),"#3030F0");
styleAxis(svg.append("g").attr("transform",`translate(${R},0)`).call(d3.axisRight(ySoar).tickValues([-20,-10,0,10,20,30,40]).tickSize(-14).tickPadding(5)),"#E070C8");
styleAxis(svg.append("g").attr("transform",`translate(${R},0)`).call(d3.axisRight(yLift).tickValues([4,2,0,-2,-4,-6,-8]).tickSize(50).tickPadding(5)),"#FF0000");
xAxis(P3.b,6);
nowLine(P3.t,P3.b);
rotLabel(49,863,"Updraft velocity");
rotLabel(81,863,"(m/s)");
rotLabel(116,860,"CAPE (J/kg)","#3030F0");
rotLabel(2083,710,"hPa");
rotLabel(2114,863,"Soaring index","#E070C8");
rotLabel(2144,863,"Lifted index","#FF0000");
function barLegend(items,xa,xb,yt,yb){
 const w=(xb-xa)/items.length;
 items.forEach(([s,c],i)=>{
  svg.append("rect").attr("x",xa+i*w).attr("y",yt).attr("width",w).attr("height",yb-yt).attr("fill",c);
  text(svg,xa+(i+.5)*w,(yt+yb)/2,s,{anchor:"middle",size:20});
 });
}
barLegend(thermalsLegend,240.6,770,995,1014);
svg.append("rect").attr("x",240.6).attr("y",995).attr("width",529.4).attr("height",19).attr("fill","none").attr("stroke","#222").attr("stroke-width",1.2);
barLegend(soaringLegend,1478.8,2009,996,1015.5);
svg.append("rect").attr("x",1478.8).attr("y",996).attr("width",530.2).attr("height",19.5).attr("fill","none").attr("stroke","#222").attr("stroke-width",1.2);
text(svg,212.6,1008,"Thermals",{anchor:"end",size:20});
text(svg,1450.7,1008,"Soaring conditions",{anchor:"end",size:20});

// ---------- PANEL 4: lapse rate ----------
text(svg,CX,1062,"Lapse rate / Humidity / Clouds",{anchor:"middle",size:24});
const P4={t:1080.7,b:1712.9};
const y4=d3.scaleLinear().domain([500,1000]).range([P4.t,P4.b]);
clip("c4",P4.t,P4.b);
const polyLine=y=>d3.line().x(d=>x(d[0])).y(d=>y(d[1]));
const g4=svg.append("g").attr("clip-path","url(#c4)");
g4.append("rect").attr("x",L).attr("y",P4.t).attr("width",R-L).attr("height",P4.b-P4.t).attr("fill","#6CC4F0");
lapseFills.forEach(([c,p])=>g4.append("path").attr("d",polyLine(y4)(p)+"Z").attr("fill",c).attr("stroke","#fff").attr("stroke-opacity",.55).attr("stroke-width",1));
grid(g4,y4,pressureTicks,P4.t,P4.b);
convectiveClouds.forEach(p=>g4.append("path").attr("d",polyLine(y4)(p)+"Z").attr("fill","url(#stars)"));
cloudCover.forEach(p=>g4.append("path").attr("d",polyLine(y4)(p)+"Z").attr("fill","url(#hatch)"));
[[rh20,"#F8E840"],[rh40,"#F0A030"],[rh60,"#E86428"],[rh70,"#E83020"],[rh80,"#D838C8"],[rh90,"#B838D0"],[rhBlob,"#E86428"]].forEach(([ps,c])=>ps.forEach(p=>g4.append("path").attr("d",polyLine(y4)(p)).attr("fill","none").attr("stroke",c).attr("stroke-width",2.1)));
g4.append("path").attr("d",polyLine(y4)(cloudBase)).attr("fill","none").attr("stroke","#000").attr("stroke-width",4.2);
g4.append("path").attr("d",hourLine(y4)(boundaryLayer)).attr("fill","none").attr("stroke","#fff").attr("stroke-width",3.4);
rhLabels.forEach(([h,p,s,c,r])=>text(g4,x(h),y4(p),s,{anchor:"middle",fill:c,size:17,rot:r||0}));
lapseLabels.forEach(([h,p,s,r])=>text(g4,x(h),y4(p),s,{anchor:"middle",fill:"#fff",size:17,rot:r}));
frame(P4.t,P4.b);
styleAxis(svg.append("g").attr("transform",`translate(${R},0)`).call(d3.axisRight(y4).tickValues(pressureTicks).tickSize(0).tickPadding(3.5).tickFormat(d3.format("d"))));
xAxis(P4.b,6);
nowLine(P4.t,P4.b);
function altLabels(y){altitudeLabels.forEach(([p,a,b])=>{text(svg,236,y(p)-11,a,{anchor:"end"});text(svg,236,y(p)+12.5,b,{anchor:"end"});});}
altLabels(y4);
rotLabel(120,1397,"Altitude approx.");
rotLabel(2083,1397,"Pressure (hPa)");
svg.append("rect").attr("x",241).attr("y",1746).attr("width",39).attr("height",7.5).attr("fill","#000");
text(svg,296,1750,"Convective cloud base",{size:20});
svg.append("rect").attr("x",563.5).attr("y",1746).attr("width",39.5).attr("height",7.5).attr("fill","#fff").attr("stroke","#000").attr("stroke-width",1);
text(svg,619,1750,"Boundary layer height",{size:20});
text(svg,939,1750,"Rel. Humidity (%): colored lines",{size:20});
text(svg,1415,1751,"Convective clouds",{size:20});
svg.append("rect").attr("x",1602).attr("y",1744).attr("width",88).attr("height",14).attr("fill","url(#stars)").attr("stroke","#222").attr("stroke-width",1);
text(svg,1796.6,1751,"Cloud cover",{size:20});
svg.append("rect").attr("x",1920.8).attr("y",1744).attr("width",88).attr("height",14).attr("fill","url(#hatch)").attr("stroke","#222").attr("stroke-width",1);

// ---------- PANEL 5: wind ----------
text(svg,CX,1813,"Horizontal wind / Vertical wind shear",{anchor:"middle",size:24});
const P5={t:1829.6,b:2462.7};
const y5=d3.scaleLinear().domain([500,1000]).range([P5.t,P5.b]);
clip("c5",P5.t,P5.b);
const g5=svg.append("g").attr("clip-path","url(#c5)");
g5.append("rect").attr("x",L).attr("y",P5.t).attr("width",R-L).attr("height",P5.b-P5.t).attr("fill",windTopColor);
const bandArea=d3.area().x((d,i)=>x(hours[i])).y0(P5.b+5).y1(d=>y5(d));
windBandBoundaries.forEach(([c,v])=>{
 g5.append("path").attr("d",bandArea(v)).attr("fill",c);
 g5.append("path").attr("d",hourLine(y5)(v)).attr("fill","none").attr("stroke","#123").attr("stroke-opacity",.7).attr("stroke-width",1);
});
windFills.forEach(([c,p])=>g5.append("path").attr("d",polyLine(y5)(p)+"Z").attr("fill",c).attr("stroke","#102060").attr("stroke-opacity",.65).attr("stroke-width",1));
grid(g5,y5,pressureTicks,P5.t,P5.b);
windLabels.forEach(([h,p,s,r])=>text(g5,x(h),y5(p),s,{anchor:"middle",size:17,rot:r}));
function barb(g,cx,cy,spd,dir){
 if(spd<=0){g.append("circle").attr("cx",cx).attr("cy",cy).attr("r",5.6).attr("fill","none").attr("stroke","#484848").attr("stroke-width",2.2);return;}
 const a=dir*Math.PI/180,ux=Math.sin(a),uy=-Math.cos(a),px=-uy,py=ux,Lb=35,F=13.5,sp=4.2;
 const tx=cx+ux*Lb/2,ty=cy+uy*Lb/2,hx=cx-ux*Lb/2,hy=cy-uy*Lb/2;
 let d=`M${hx},${hy}L${tx},${ty}`;
 let pos=0;
 const full=Math.floor(spd/5),half=(spd%5)>=2.5;
 if(full===0&&half)pos=sp*1.2;
 for(let i=0;i<full;i++){const bx=tx-ux*pos,by=ty-uy*pos;d+=`M${bx},${by}L${bx+px*F+ux*3},${by+py*F+uy*3}`;pos+=sp;}
 if(half){const bx=tx-ux*pos,by=ty-uy*pos;d+=`M${bx},${by}L${bx+px*F/2+ux*1.5},${by+py*F/2+uy*1.5}`;}
 g.append("path").attr("d",d).attr("fill","none").attr("stroke","#484848").attr("stroke-width",2.2);
}
barbLevels.forEach((lv,r)=>barbHours.forEach((h,c)=>barb(g5,x(h),y5(lv),barbSpeed[r][c],barbDir[r][c])));
[[shear03,"#F8EC48",4],[shear06,"#F0C038",4],[shear08,"#E8662A",4.2],[shear14,"#EE2A20",4.2]].forEach(([ps,c,w])=>ps.forEach(p=>g5.append("path").attr("d",polyLine(y5)(p)).attr("fill","none").attr("stroke",c).attr("stroke-width",w)));
shearLabels.forEach(([h,p,s,r,c])=>text(g5,x(h),y5(p),s,{anchor:"middle",fill:c,size:17.5,rot:r}));
frame(P5.t,P5.b);
styleAxis(svg.append("g").attr("transform",`translate(${R},0)`).call(d3.axisRight(y5).tickValues(pressureTicks).tickSize(0).tickPadding(3.5).tickFormat(d3.format("d"))));
xAxis(P5.b,6);
nowLine(P5.t,P5.b);
altLabels(y5);
rotLabel(120,2147,"Altitude approx.");
rotLabel(2083,2147,"Pressure (hPa)");
text(svg,43.5,2505,"Last update: 2026-07-19 13:39",{fill:"#909090",size:22});
text(svg,1636.6,2506,"Wind shear (m/s per 100 m)",{anchor:"end",size:20});
barLegend(shearLegend,1655,2009,2493,2511.4);
</script></body></html>
